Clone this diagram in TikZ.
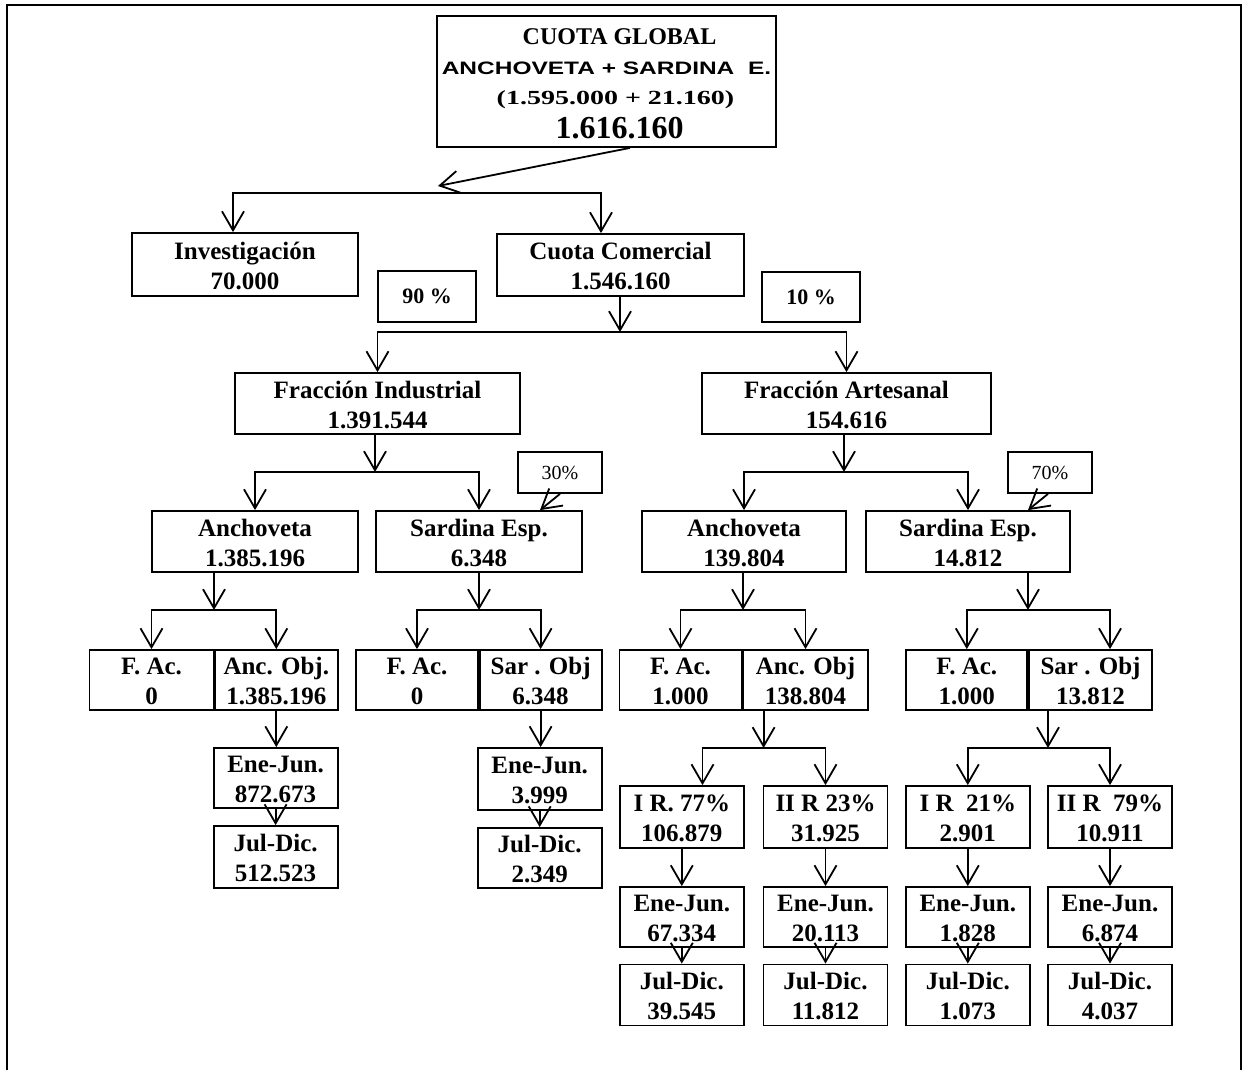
\documentclass[tikz,border=0pt]{standalone}
\usepackage{fontspec}
\setmainfont{Liberation Serif}
\newfontfamily\arialx{Liberation Sans}[FakeStretch=1.36]
\newfontfamily\serifx{Liberation Serif}[FakeStretch=1.4]
\usepackage{tikz}
\usetikzlibrary{arrows.meta}
\newcommand{\cifra}[2]{\rule{0pt}{20pt}#1\\#2}
\tikzset{
  caja/.style={draw, line width=1.8pt, inner sep=0pt, align=center,
    font=\bfseries\fontsize{25}{30}\selectfont},
  pct/.style={draw, line width=1.8pt, inner sep=0pt,
    font=\bfseries\fontsize{22}{26}\selectfont},
  pctn/.style={draw, line width=1.8pt, inner sep=0pt,
    font=\fontsize{20}{24}\selectfont},
  tam/.style 2 args={minimum width=#1pt, minimum height=#2pt},
  flecha/.style={->, line width=1.8pt},
}

\begin{document}
\begin{tikzpicture}[x=1pt, y=-1pt, >={Straight Barb[length=19pt,width=22pt]}]
    \useasboundingbox (0,0) rectangle (1243,1070);
    % marco
    \draw [line width=2.3pt] (7,1070) -- (7,5) -- (1241,5) -- (1241,1070);

    % cuota global
    \node [caja, tam={339}{131}] (cg) at (606.5,81.5)
        {\fontsize{24}{30}\selectfont\rule{0pt}{20pt}\hspace*{26pt}CUOTA GLOBAL\\
         {\arialx\fontsize{18}{30}\selectfont ANCHOVETA + SARDINA\ \ E.}\\
         {\serifx\fontsize{20}{30}\selectfont\hspace*{18pt}(1.595.000 + 21.160)}\\[4pt]
         {\fontsize{32}{30}\selectfont\hspace*{26pt}1.616.160}};
    \node [caja, tam={226}{63}] (inv) at (245,264.5) {\cifra{Investigación}{70.000}};
    \node [caja, tam={247}{62}] (ccom) at (620.5,265) {\cifra{Cuota Comercial}{1.546.160}};
    \node [pct, tam={98}{51}] (p90) at (427,296.5) {90 \%};
    \node [pct, tam={98}{50}] (p10) at (811,297) {10 \%};

    % fracciones
    \node [caja, tam={285}{61}] (fi) at (377.5,403.5) {\cifra{Fracción Industrial}{1.391.544}};
    \node [caja, tam={289}{61}] (fa) at (846.5,403.5) {\cifra{Fracción Artesanal}{154.616}};
    \node [pctn, tam={84}{41}] (p30) at (560,472.5) {30\%};
    \node [pctn, tam={84}{41}] (p70) at (1050,472.5) {70\%};

    % especies
    \node [caja, tam={206}{61}] (anc1) at (255,541.5) {\cifra{Anchoveta}{1.385.196}};
    \node [caja, tam={206}{61}] (sar1) at (479,541.5) {\cifra{Sardina Esp.}{6.348}};
    \node [caja, tam={204}{61}] (anc2) at (744,541.5) {\cifra{Anchoveta}{139.804}};
    \node [caja, tam={204}{61}] (sar2) at (968,541.5) {\cifra{Sardina Esp.}{14.812}};

    % fauna acompanante / objetivo
    \node [caja, tam={124}{60}] (fac1) at (151.5,680) {\cifra{F. Ac.}{0}};
    \node [caja, tam={123}{60}] (ao1) at (276.3,680) {\cifra{Anc. Obj.}{1.385.196}};
    \node [caja, tam={122}{60}] (fac2) at (417,680) {\cifra{F. Ac.}{0}};
    \node [caja, tam={122}{60}] (so2) at (540.6,680) {\cifra{Sar . Obj}{6.348}};
    \node [caja, tam={122}{60}] (fac3) at (680.5,680) {\cifra{F. Ac.}{1.000}};
    \node [caja, tam={125}{60}] (ao3) at (805.5,680) {\cifra{Anc. Obj}{138.804}};
    \node [caja, tam={121}{60}] (fac4) at (966.8,680) {\cifra{F. Ac.}{1.000}};
    \node [caja, tam={123}{60}] (so4) at (1090.5,680) {\cifra{Sar . Obj}{13.812}};

    % periodos industrial
    \node [caja, tam={124}{60}] (ej1) at (275.6,778) {\cifra{Ene-Jun.}{872.673}};
    \node [caja, tam={124}{62}] (jd1) at (275.6,857) {\cifra{Jul-Dic.}{512.523}};
    \node [caja, tam={124}{62}] (ej2) at (539.7,779) {\cifra{Ene-Jun.}{3.999}};
    \node [caja, tam={124}{60}] (jd2) at (539.7,858) {\cifra{Jul-Dic.}{2.349}};

    % regiones y periodos artesanal
    \foreach \n/\x/\r/\a/\b/\c in {3/681.8/{I R. 77\%}/106.879/67.334/39.545,
                                   4/825.5/{II R 23\%}/31.925/20.113/11.812,
                                   5/967.8/{I R\ \ 21\%}/2.901/1.828/1.073,
                                   6/1110/{II R\ \ 79\%}/10.911/6.874/4.037}
    {
        \node [caja, tam={124}{62}] (ir\n) at (\x,817) {\cifra{\r}{\a}};
        \node [caja, tam={124}{60}] (ej\n) at (\x,917) {\cifra{Ene-Jun.}{\b}};
        \node [caja, tam={124}{61}] (jd\n) at (\x,995) {\cifra{Jul-Dic.}{\c}};
        \draw [flecha] (ir\n.south) -- (ej\n.north);
        \draw [flecha] (ej\n.south) -- (jd\n.north);
    }

    % uniones
    \coordinate (jA) at (438,193);
    \coordinate (jB) at (620,332);
    \coordinate (jC) at (375,472);
    \coordinate (jD) at (844,472);
    \coordinate (jE) at (214,610);
    \coordinate (jF) at (479,610);
    \coordinate (jG) at (743,610);
    \coordinate (jH) at (1028,610);
    \coordinate (jI) at (763.6,748);
    \coordinate (jJ) at (1048,748);

    \draw [flecha] ([xshift=23.5pt]cg.south) -- ([yshift=7pt]jA);
    \draw [flecha] (jA) -| ([xshift=-12pt]inv.north);
    \draw [flecha] (jA) -| ([xshift=-19.5pt]ccom.north);

    \draw [flecha] (jB |- ccom.south) -- (jB);
    \draw [flecha] (jB) -| (fi.north);
    \draw [flecha] (jB) -| (fa.north);

    \draw [flecha] (jC |- fi.south) -- (jC);
    \draw [flecha] (jC) -| (anc1.north);
    \draw [flecha] (jC) -| (sar1.north);
    \draw [flecha] (jD |- fa.south) -- (jD);
    \draw [flecha] (jD) -| (anc2.north);
    \draw [flecha] (jD) -| (sar2.north);
    \draw [flecha] (p30.south) -- ([xshift=61pt]sar1.north);
    \draw [flecha] ([xshift=-2pt]p70.south) -- ([xshift=60pt]sar2.north);

    \draw [flecha] (jE |- anc1.south) -- (jE);
    \draw [flecha] (jE) -| (fac1.north);
    \draw [flecha] (jE) -| (ao1.north);
    \draw [flecha] (jF |- sar1.south) -- (jF);
    \draw [flecha] (jF) -| (fac2.north);
    \draw [flecha] (jF) -| (so2.north);
    \draw [flecha] (jG |- anc2.south) -- (jG);
    \draw [flecha] (jG) -| (fac3.north);
    \draw [flecha] (jG) -| (ao3.north);
    \draw [flecha] (jH |- sar2.south) -- (jH);
    \draw [flecha] (jH) -| (fac4.north);
    \draw [flecha] (jH) -| ([xshift=19.5pt]so4.north);

    \draw [flecha] (ao1.south) -- (ao1.south |- ej1.north);
    \draw [flecha] (ej1.south) -- (ej1.south |- jd1.north);
    \draw [flecha] (so2.south) -- (so2.south |- ej2.north);
    \draw [flecha] (ej2.south) -- (ej2.south |- jd2.north);

    \draw [flecha] (jI |- ao3.south) -- (jI);
    \draw [flecha] (jI) -| ([xshift=20.7pt]ir3.north);
    \draw [flecha] (jI) -| (ir4.north);
    \draw [flecha] (jJ |- so4.south) -- (jJ);
    \draw [flecha] (jJ) -| (ir5.north);
    \draw [flecha] (jJ) -| (ir6.north);
\end{tikzpicture}
\end{document}
